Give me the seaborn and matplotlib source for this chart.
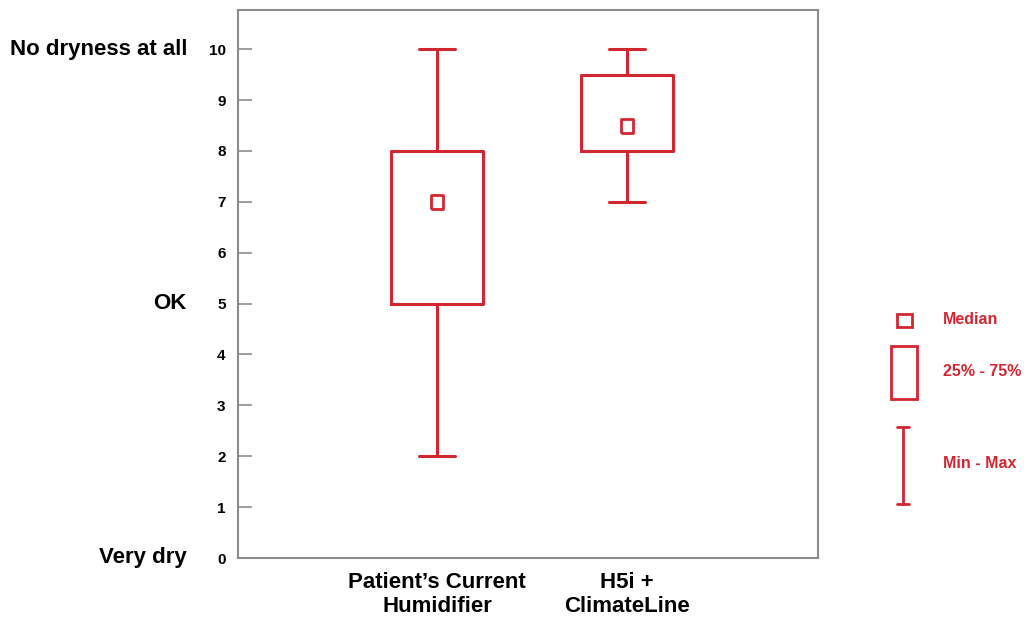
import matplotlib
matplotlib.use("Agg")
import matplotlib.pyplot as plt
import seaborn as sns
import pandas as pd
import numpy as np
from matplotlib.patches import Rectangle
from matplotlib.lines import Line2D

# ---- data (five-number summaries) ----
categories = ["Patient\u2019s Current\nHumidifier", "H5i +\nClimateLine"]
current_humidifier = [2, 5, 7, 8, 10]     # min, Q1, median, Q3, max
h5i_climateline = [7, 8, 8.5, 9.5, 10]    # min, Q1, median, Q3, max
medians = [7, 8.5]
y_ticks = [0, 1, 2, 3, 4, 5, 6, 7, 8, 9, 10]
y_text_labels = {10: "No dryness at all", 5: "OK", 0: "Very dry"}
legend_labels = ["Median", "25% - 75%", "Min - Max"]

RED = "#D22630"
GRAY = "#8C8C8C"

sns.set_theme(style="white")
plt.rcParams["font.family"] = ["Liberation Sans", "DejaVu Sans"]
plt.rcParams["font.weight"] = "bold"
plt.rcParams["text.color"] = "black"
plt.rcParams["ytick.labelcolor"] = "black"
plt.rcParams["xtick.labelcolor"] = "black"

df = pd.DataFrame({
    "group": [categories[0]] * len(current_humidifier) + [categories[1]] * len(h5i_climateline),
    "score": current_humidifier + h5i_climateline,
})
med_df = pd.DataFrame({"group": categories, "score": medians})

W, H = 1024, 620
fig = plt.figure(figsize=(W / 100, H / 100), dpi=100)
ax = fig.add_axes([238 / W, 1 - 558 / H, (818 - 238) / W, (558 - 10) / H])

sns.boxplot(data=df, x="group", y="score", order=categories, ax=ax,
            fill=False, color=RED, linewidth=2.2, width=0.48,
            whis=(0, 100), capwidths=0.19,
            medianprops={"visible": False}, showfliers=False)
tall_square = [(-0.4, -0.5), (0.4, -0.5), (0.4, 0.5), (-0.4, 0.5), (-0.4, -0.5)]
sns.stripplot(data=med_df, x="group", y="score", order=categories, ax=ax,
              jitter=False, marker=tall_square, size=10.5, color="white",
              edgecolor=RED, linewidth=2.0, zorder=5)

ax.set_xlim(-1.047, 2.005)
ax.set_ylim(0, 10.77)
ax.set_yticks(y_ticks)
ax.set_yticklabels([str(t) for t in y_ticks], fontsize=11, fontweight="bold", color="black")
ax.set_xticks(range(len(categories)))
ax.set_xticklabels(categories, fontsize=16, fontweight="bold", linespacing=1.2, color="black")
ax.tick_params(axis="y", direction="in", length=10, width=1.2, color=GRAY, pad=9, left=True)
ax.tick_params(axis="x", length=0, pad=10)
ax.set_xlabel("")
ax.set_ylabel("")
for s in ax.spines.values():
    s.set_visible(True)
    s.set_color(GRAY)
    s.set_linewidth(1.5)

trans = ax.get_yaxis_transform()
for yv, lab in y_text_labels.items():
    ax.text(-51 / 580, yv, lab, transform=trans, ha="right", va="center",
            fontsize=16, fontweight="bold", color="black")

# ---- legend (drawn in figure pixel coordinates) ----
def fx(x):
    return x / W

def fy(y):
    return 1 - y / H

fig.add_artist(Rectangle((fx(897), fy(327)), 15 / W, 13 / H, transform=fig.transFigure,
                         fill=False, edgecolor=RED, linewidth=2.0))
fig.add_artist(Rectangle((fx(891), fy(399)), 26 / W, 53 / H, transform=fig.transFigure,
                         fill=False, edgecolor=RED, linewidth=2.0))
fig.add_artist(Line2D([fx(903), fx(903)], [fy(427), fy(504)], transform=fig.transFigure,
                      color=RED, linewidth=2.0))
for yy in (427, 504):
    fig.add_artist(Line2D([fx(897), fx(909)], [fy(yy), fy(yy)], transform=fig.transFigure,
                          color=RED, linewidth=2.0))
for lab, yy in zip(legend_labels, (320, 371, 463)):
    fig.text(fx(943), fy(yy), lab, ha="left", va="center", fontsize=11.5,
             fontweight="bold", color=RED)

fig.savefig("out.png", dpi=100)
